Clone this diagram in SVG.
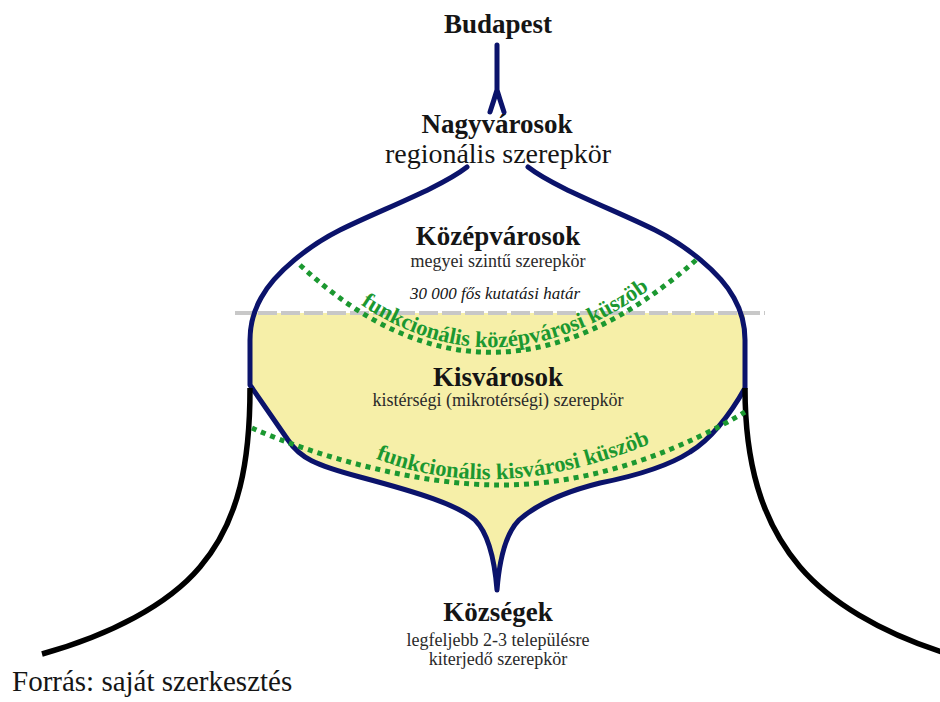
<svg xmlns="http://www.w3.org/2000/svg" width="940" height="702" viewBox="0 0 940 702">
<style>
text{font-family:"Liberation Serif","Times New Roman",serif;fill:#151515;text-anchor:middle}
.h{font-weight:bold;font-size:27px}
.s{font-size:18px;fill:#2a2a2a}
.g{font-weight:bold;font-size:22.5px;fill:#1b9830}
.navy{fill:none;stroke:#0b136b;stroke-width:5;stroke-linejoin:round;stroke-linecap:round}
.blk{fill:none;stroke:#000;stroke-width:5.5;stroke-linecap:butt}
.dot{fill:none;stroke:#1b9830;stroke-width:5;stroke-dasharray:5 5}
</style>
<defs>
<path id="p1" d="M308,262 Q490,436 692,255"/>
<path id="p2" d="M352,448 Q490,516 668,436"/>
</defs>
<rect width="940" height="702" fill="#fff"/>
<g id="connectors">
<path id="fill" d="M250,313 L745,313 L745,388 C730,415 710,440 690,452 C670,465 640,475 600,483 C560,493 536,505 519,520 C504,535 499,565 497,590 C495,565 490,535 475,520 C458,505 420,493 360,477 C315,465 300,458 288,440 L250,385 Z" fill="#f6efa8"/>
<line id="limit" x1="235" y1="313" x2="765" y2="313" stroke="#c8c8c8" stroke-width="4" stroke-dasharray="19 4"/>
<path id="stem" class="navy" d="M497,45 L497,92 M497,90 Q494,100 490,112 M497,90 Q500,100 504,112" stroke-width="4.5"/>
<path id="outline" class="navy" d="M467,167 C440,188 380,210 340,230 C310,245 275,272 261,298 C252,314 250,330 250,340 L250,385 L288,440 C300,458 315,465 360,477 C420,493 458,505 475,520 C490,535 495,565 497,590 C499,565 504,535 519,520 C536,505 560,493 600,483 C640,475 670,465 690,452 C710,440 730,415 745,388 L745,340 C745,330 743,314 734,298 C720,272 685,245 655,230 C615,210 555,188 528,167"/>
<path id="leftBlack" class="blk" d="M250,388 C250,460 240,520 200,567 C168,605 110,635 42,654"/>
<path id="rightBlack" class="blk" d="M745,388 C745,460 760,520 800,567 C830,602 880,632 942,652"/>
<path id="midThreshold" class="dot" d="M300,265 Q490,442 696,260"/>
<path id="smallThreshold" class="dot" d="M252,428 C320,458 420,485 500,485 C600,485 690,445 745,412"/>
</g>
<g id="budapest"><text class="h" x="498" y="33">Budapest</text></g>
<g id="nagyvarosok"><text class="h" x="497" y="133">Nagyvárosok</text><text x="498" y="163" style="font-size:28px">regionális szerepkör</text></g>
<g id="kozepvarosok"><text class="h" x="498" y="245">Középvárosok</text><text class="s" x="498" y="267">megyei szintű szerepkör</text></g>
<g id="hatar"><text x="495" y="299" style="font-size:17px;font-style:italic">30 000 fős kutatási határ</text></g>
<g id="kozepKuszob"><text class="g"><textPath href="#p1" startOffset="51.5%">funkcionális középvárosi küszöb</textPath></text></g>
<g id="kisvarosok"><text class="h" x="498" y="386">Kisvárosok</text><text class="s" x="498" y="406">kistérségi (mikrotérségi) szerepkör</text></g>
<g id="kisKuszob"><text class="g"><textPath href="#p2" startOffset="51%">funkcionális kisvárosi küszöb</textPath></text></g>
<g id="kozsegek"><text class="h" x="498" y="621">Községek</text><text class="s" x="498" y="646">legfeljebb 2-3 településre</text><text class="s" x="498" y="665">kiterjedő szerepkör</text></g>
<g id="forras"><text x="12" y="691" style="font-size:29px;text-anchor:start">Forrás: saját szerkesztés</text></g>
</svg>
